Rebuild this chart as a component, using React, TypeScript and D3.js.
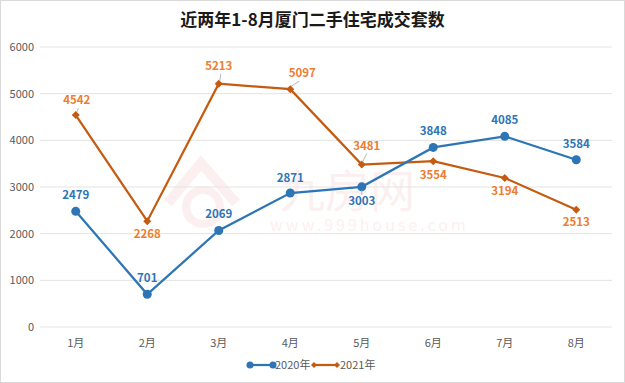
import React from "react";
import * as d3 from "d3";

const months = ["1月", "2月", "3月", "4月", "5月", "6月", "7月", "8月"];
const s2020 = [2479, 701, 2069, 2871, 3003, 3848, 4085, 3584];
const s2021 = [4542, 2268, 5213, 5097, 3481, 3554, 3194, 2513];
const yTicks = [0, 1000, 2000, 3000, 4000, 5000, 6000];
// label placement: dy offset (label baseline relative to point), dx offset, leader line
const pos2020 = [
  { dx: 0, dy: -12, lead: false },
  { dx: 0, dy: -12, lead: false },
  { dx: 0, dy: -12, lead: false },
  { dx: 0, dy: -11, lead: false },
  { dx: 0, dy: 18, lead: true },
  { dx: 0, dy: -12, lead: false },
  { dx: 0, dy: -12, lead: false },
  { dx: 0, dy: -12, lead: false },
];
const pos2021 = [
  { dx: 1, dy: -9, lead: true },
  { dx: 0, dy: 19, lead: false },
  { dx: 0, dy: -12, lead: true },
  { dx: 12, dy: -10, lead: true },
  { dx: 5, dy: -13, lead: true },
  { dx: 0, dy: 20, lead: false },
  { dx: 0, dy: 19, lead: false },
  { dx: 0, dy: 18, lead: false },
];

const W = 625;
const H = 383;
const BLUE = "#2E75B6";
const ORANGE_LINE = "#C55A11";
const ORANGE_LABEL = "#ED7D31";
const FONT = "'Noto Sans CJK SC', 'Noto Sans', sans-serif";

export default function App() {
  const x = d3.scaleBand<string>().domain(months).range([40, 612]);
  const y = d3.scaleLinear().domain([0, 6000]).range([327, 47]);
  const cx = (m: string) => (x(m) as number) + x.bandwidth() / 2;
  const line = d3
    .line<number>()
    .x((_, i) => cx(months[i]))
    .y((d) => y(d));
  const diamond = (px: number, py: number, r: number) =>
    `M${px},${py - r}L${px + r},${py}L${px},${py + r}L${px - r},${py}Z`;

  return (
    <svg
      width={W}
      height={H}
      style={{ position: "absolute", left: 0, top: 0, background: "#fff" }}
      fontFamily={FONT}
    >
      <rect x={0.5} y={0.5} width={W - 1} height={H - 1} fill="#fff" stroke="#d9d9d9" />
      <text x={W / 2} y={26} textAnchor="middle" fontSize={17} fontWeight="bold" fill="#1a1a1a">
        近两年1-8月厦门二手住宅成交套数
      </text>

      {/* watermark */}
      <g opacity={0.07}>
        <path d="M168,203 L201,163 L236,203" fill="none" stroke="#e03030" strokeWidth={10} />
        <circle cx={203} cy={207} r={17} fill="none" stroke="#e03030" strokeWidth={8} />
        <text x={280} y={208} fontSize={45} fill="#e03030">九房网</text>
        <text x={270} y={231} fontSize={16} fill="#e03030" letterSpacing={3}>www.999house.com</text>
      </g>

      {yTicks.map((t) => (
        <g key={t}>
          <line x1={40} x2={612} y1={y(t)} y2={y(t)} stroke="#e3e3e3" strokeWidth={1} />
          <text x={34} y={y(t) + 4} textAnchor="end" fontSize={11} fill="#595959">
            {t}
          </text>
        </g>
      ))}
      {months.map((m) => (
        <text key={m} x={cx(m)} y={347} textAnchor="middle" fontSize={11} fill="#595959">
          {m}
        </text>
      ))}

      <path d={line(s2021) as string} fill="none" stroke={ORANGE_LINE} strokeWidth={2.25} />
      <path d={line(s2020) as string} fill="none" stroke={BLUE} strokeWidth={2.25} />

      {s2021.map((v, i) => (
        <path key={i} d={diamond(cx(months[i]), y(v), 4)} fill={ORANGE_LINE} />
      ))}
      {s2020.map((v, i) => (
        <circle key={i} cx={cx(months[i])} cy={y(v)} r={4.5} fill={BLUE} />
      ))}

      {s2020.map((v, i) => {
        const p = pos2020[i];
        const px = cx(months[i]);
        const py = y(v);
        return (
          <g key={i}>
            {p.lead && (
              <line x1={px} y1={py + 3} x2={px + p.dx} y2={py + p.dy - 10} stroke="#a6a6a6" strokeWidth={0.8} />
            )}
            <text x={px + p.dx} y={py + p.dy} textAnchor="middle" fontSize={11.5} fontWeight="bold" fill={BLUE}>
              {v}
            </text>
          </g>
        );
      })}
      {s2021.map((v, i) => {
        const p = pos2021[i];
        const px = cx(months[i]);
        const py = y(v);
        return (
          <g key={i}>
            {p.lead && (
              <line
                x1={px + 1}
                y1={py - 3}
                x2={px + p.dx * 0.6 + 2}
                y2={py + p.dy + 2}
                stroke="#a6a6a6"
                strokeWidth={0.8}
              />
            )}
            <text x={px + p.dx} y={py + p.dy - 2} textAnchor="middle" fontSize={11.5} fontWeight="bold" fill={ORANGE_LABEL}>
              {v}
            </text>
          </g>
        );
      })}

      {/* legend */}
      <g>
        <line x1={250} x2={273} y1={365} y2={365} stroke={BLUE} strokeWidth={2.25} />
        <circle cx={250} cy={365} r={3.5} fill={BLUE} />
        <circle cx={273} cy={365} r={3.5} fill={BLUE} />
        <text x={275} y={369} fontSize={11} fill="#595959">2020年</text>
        <line x1={314} x2={337} y1={365} y2={365} stroke={ORANGE_LINE} strokeWidth={2.25} />
        <path d={diamond(314, 365, 3)} fill={ORANGE_LINE} />
        <path d={diamond(337, 365, 3)} fill={ORANGE_LINE} />
        <text x={340} y={369} fontSize={11} fill="#595959">2021年</text>
      </g>
    </svg>
  );
}
